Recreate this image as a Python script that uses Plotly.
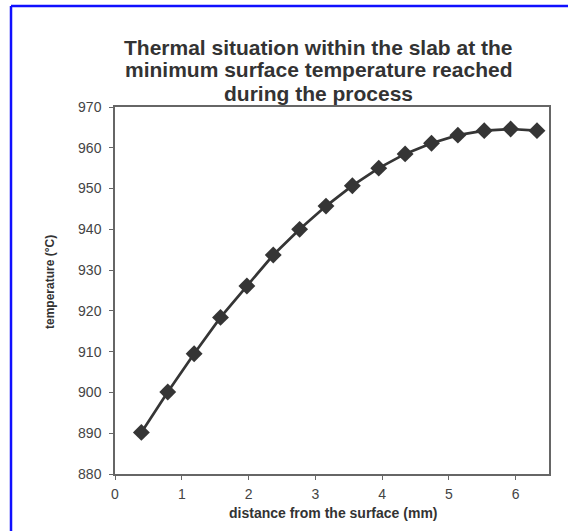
import plotly.graph_objects as go

distance_mm = [0.395, 0.79, 1.185, 1.58, 1.975, 2.37, 2.765, 3.16, 3.555, 3.95,
               4.345, 4.74, 5.135, 5.53, 5.925, 6.32]
temperature_c = [890.2, 900.1, 909.5, 918.4, 926.1, 933.7, 940.0, 945.7, 950.7, 955.0,
                 958.5, 961.1, 963.1, 964.2, 964.6, 964.2]
x_ticks = [0, 1, 2, 3, 4, 5, 6]
y_ticks = [880, 890, 900, 910, 920, 930, 940, 950, 960, 970]
title_lines = ["Thermal situation within the slab at the",
               "minimum surface temperature reached",
               "during the process"]
x_title = "distance from the surface (mm)"
y_title = "temperature (°C)"

W, H = 568, 531
L, R, T, B = 115, 549, 107, 474


def px_x(p):
    return (p - L) / (R - L)


def px_y(p):
    return (B - p) / (B - T)


fig = go.Figure()
fig.add_trace(go.Scatter(
    x=distance_mm, y=temperature_c, mode="lines+markers",
    line=dict(color="#353535", width=2.7),
    marker=dict(symbol="diamond", size=13, color="#353535"),
    showlegend=False,
))

annotations = []
for i, line in enumerate(title_lines):
    annotations.append(dict(
        text="<b>%s</b>" % line, xref="paper", yref="paper",
        x=px_x(318), y=px_y(47 + 23 * i), xanchor="center", yanchor="middle",
        showarrow=False, font=dict(size=21, color="#333333",
                                   family="Liberation Sans, Arial, sans-serif"),
    ))
annotations.append(dict(
    text="<b>%s</b>" % x_title, xref="paper", yref="paper",
    x=px_x(333), y=px_y(513), xanchor="center", yanchor="middle",
    showarrow=False, font=dict(size=14, color="#333333",
                               family="Liberation Sans, Arial, sans-serif"),
))
annotations.append(dict(
    text="<b>%s</b>" % y_title, xref="paper", yref="paper", textangle=-90,
    x=px_x(50), y=px_y(282), xanchor="center", yanchor="middle",
    showarrow=False, font=dict(size=12, color="#333333",
                               family="Liberation Sans Narrow, Arial Narrow, sans-serif"),
))

fig.update_layout(
    width=W, height=H,
    margin=dict(l=L, r=W - R, t=T, b=H - B),
    paper_bgcolor="white", plot_bgcolor="white",
    font=dict(family="Liberation Sans, Arial, sans-serif", color="#3a3a3a"),
    xaxis=dict(
        range=[0, 6.5], tickvals=x_ticks, showgrid=False, zeroline=False,
        showline=True, linecolor="#666666", linewidth=1.5, mirror=True,
        ticks="outside", ticklen=4, tickcolor="#666666",
        tickfont=dict(size=14, color="#444444"), ticklabelstandoff=2,
    ),
    yaxis=dict(
        range=[880, 970], tickvals=y_ticks, showgrid=False, zeroline=False,
        showline=True, linecolor="#666666", linewidth=1.5, mirror=True,
        ticks="outside", ticklen=4, tickcolor="#666666",
        tickfont=dict(size=14, color="#444444"), ticklabelstandoff=5,
    ),
    annotations=annotations,
    shapes=[
        dict(type="line", xref="paper", yref="paper",
             x0=px_x(11), x1=px_x(11), y0=px_y(6), y1=px_y(H + 5),
             line=dict(color="#1010ff", width=2.5)),
        dict(type="line", xref="paper", yref="paper",
             x0=px_x(11), x1=px_x(W + 5), y0=px_y(6), y1=px_y(6),
             line=dict(color="#1010ff", width=2.5)),
    ],
)

fig.write_html("out.html")
